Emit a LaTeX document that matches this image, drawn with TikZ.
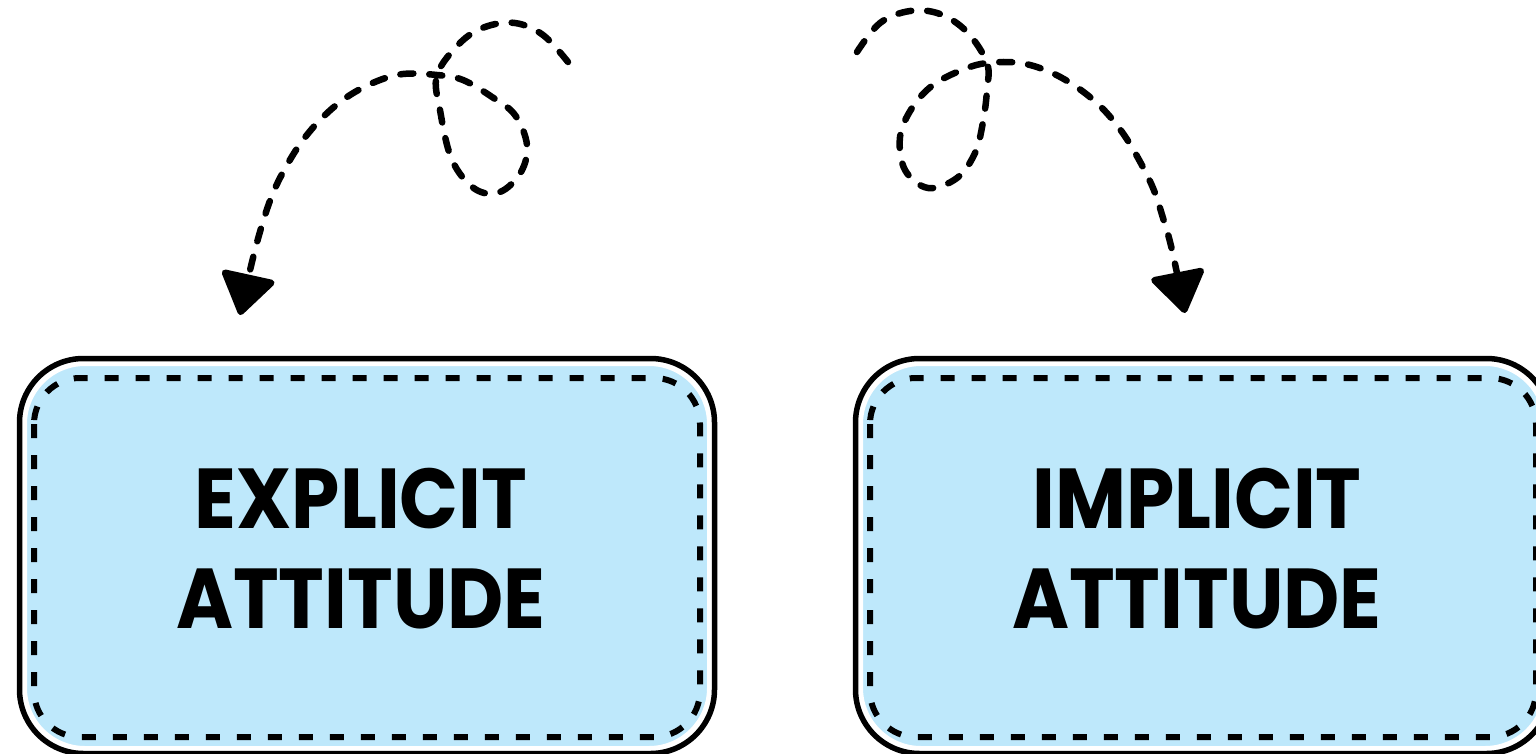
\documentclass[tikz,border=0pt]{standalone}
\usepackage{fontspec}
\usetikzlibrary{arrows.meta}
\newfontfamily\labelfont{Poppins}[FakeStretch=0.91]
\definecolor{boxblue}{RGB}{190,232,251}

\begin{document}
\begin{tikzpicture}[x=1pt, y=-1pt, line join=round,
  attbox/.style={draw=white, line width=4pt, fill=boxblue, rounded corners=60pt,
    minimum width=684pt, minimum height=384pt, inner sep=0pt},
  attlabel/.style={align=center, inner sep=0pt, font=\labelfont\bfseries\fontsize{85}{100}\selectfont},
  rim/.style={draw=black, line width=5.5pt, rounded corners=64pt},
  stitch/.style={draw=black, line width=6pt, dash pattern=on 14pt off 17pt, rounded corners=46pt},
  curl/.style={line width=6.5pt, line cap=round, dash pattern=on 13pt off 16pt,
    -{Triangle[length=44pt, width=58pt, round]}}]

  %% ════ boxes ════
  \node[attbox] (explicit) at (367,556) {};
  \node[attbox] (implicit) at (1203,556) {};

  % black outline round the white rim
  \draw[rim] ([shift={(-3.5,-3.5)}]explicit.north west) rectangle ([shift={(3.5,3.5)}]explicit.south east);
  \draw[rim] ([shift={(-3.5,-3.5)}]implicit.north west) rectangle ([shift={(3.5,3.5)}]implicit.south east);

  % stitched inner border
  \draw[stitch] ([shift={(11,16)}]explicit.north west) rectangle ([shift={(-11,-13)}]explicit.south east);
  \draw[stitch] ([shift={(11,16)}]implicit.north west) rectangle ([shift={(-11,-13)}]implicit.south east);

  %% ════ labels ════
  \node[attlabel] (explicitLbl) at ([shift={(-6pt,7pt)}]explicit.center) {EXPLICIT\\ATTITUDE};
  \node[attlabel] (implicitLbl) at ([shift={(-6pt,7pt)}]implicit.center) {IMPLICIT\\ATTITUDE};

  %% ════ curly arrows ════
  \coordinate (curlL) at (568,62);
  \coordinate (tipL) at (240,315);
  \coordinate (curlR) at (857,52);
  \coordinate (tipR) at (1185,313);

  \draw[curl] plot[smooth, tension=0.6] coordinates {(curlL) (543,35) (515,23) (485,27) (460,43) (437,75)
    (440,110) (452,160) (475,189) (500,192) (521,172) (527,145) (515,115) (492,97) (463,80) (437,75)
    (403,74) (375,82) (347,97) (323,117) (303,140) (287,165) (273,193) (262,225) (252,262) (tipL)};
  \draw[curl] plot[smooth, tension=0.6] coordinates {(curlR) (880,23) (910,11) (940,14) (967,32) (987,63)
    (987,90) (983,122) (975,153) (957,178) (928,188) (905,170) (900,137) (912,108) (933,85) (962,70) (987,63)
    (1020,63) (1050,72) (1078,88) (1102,108) (1122,132) (1138,158) (1153,188) (1163,218) (1172,250) (tipR)};

  % fix the canvas to the reference size
  \pgfresetboundingbox
  \path[use as bounding box] (0,0) rectangle (1536,754);
\end{tikzpicture}
\end{document}
